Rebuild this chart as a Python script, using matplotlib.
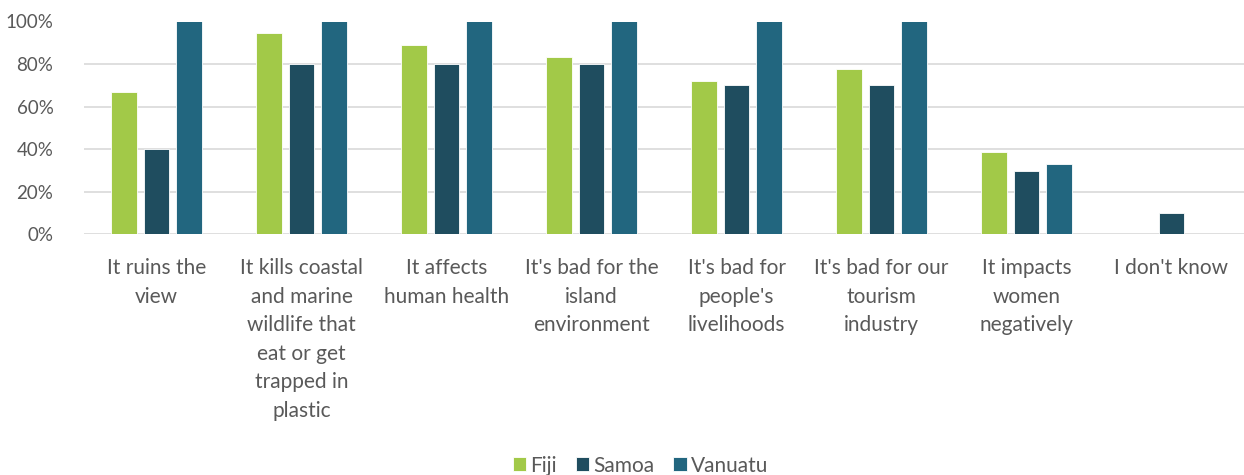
import matplotlib.pyplot as plt
import numpy as np
from matplotlib.ticker import PercentFormatter

plt.rcParams['font.family'] = ['Lato', 'DejaVu Sans']

categories = ["It ruins the\nview",
              "It kills coastal\nand marine\nwildlife that\neat or get\ntrapped in\nplastic",
              "It affects\nhuman health",
              "It's bad for the\nisland\nenvironment",
              "It's bad for\npeople's\nlivelihoods",
              "It's bad for our\ntourism\nindustry",
              "It impacts\nwomen\nnegatively",
              "I don't know"]
fiji = [66.7, 94.4, 88.9, 83.3, 72.2, 77.8, 38.9, 0]
samoa = [40, 80, 80, 80, 70, 70, 30, 10]
vanuatu = [100, 100, 100, 100, 100, 100, 33.3, 0]

series = [("Fiji", fiji, "#A2C948"), ("Samoa", samoa, "#1F4D5F"), ("Vanuatu", vanuatu, "#22667F")]

text_color = "#595959"

fig = plt.figure(figsize=(12.44, 4.75), dpi=100)
ax = fig.add_axes([84 / 1244, 1 - 234.5 / 475, 1 - 84 / 1244, 213 / 475])

x = np.arange(len(categories))
width = 0.178
step = 0.223
for i, (name, vals, color) in enumerate(series):
    ax.bar(x + (i - 1) * step, vals, width, color=color, label=name,
           edgecolor="white", linewidth=0.6, zorder=3)

ax.set_xlim(-0.5, len(categories) - 0.5)
ax.set_ylim(0, 100)
ax.set_yticks(np.arange(0, 101, 20))
ax.yaxis.set_major_formatter(PercentFormatter(decimals=0))
ax.grid(axis="y", color="#D9D9D9", linewidth=1.2, zorder=0)
for s in ax.spines.values():
    s.set_visible(False)
ax.tick_params(axis="both", length=0, colors=text_color)
ax.tick_params(axis="y", pad=22, labelsize=13.5)
ax.tick_params(axis="x", pad=17, labelsize=15)
ax.set_xticks(x)
ax.set_xticklabels(categories, linespacing=1.53, va="top")

fig.legend(loc="center", bbox_to_anchor=(0.515, 0.02), ncol=3, frameon=False,
           fontsize=15, labelcolor=text_color, handlelength=0.65, handleheight=0.65,
           handletextpad=0.2, columnspacing=0.9)

fig.savefig("out.png", dpi=100)
